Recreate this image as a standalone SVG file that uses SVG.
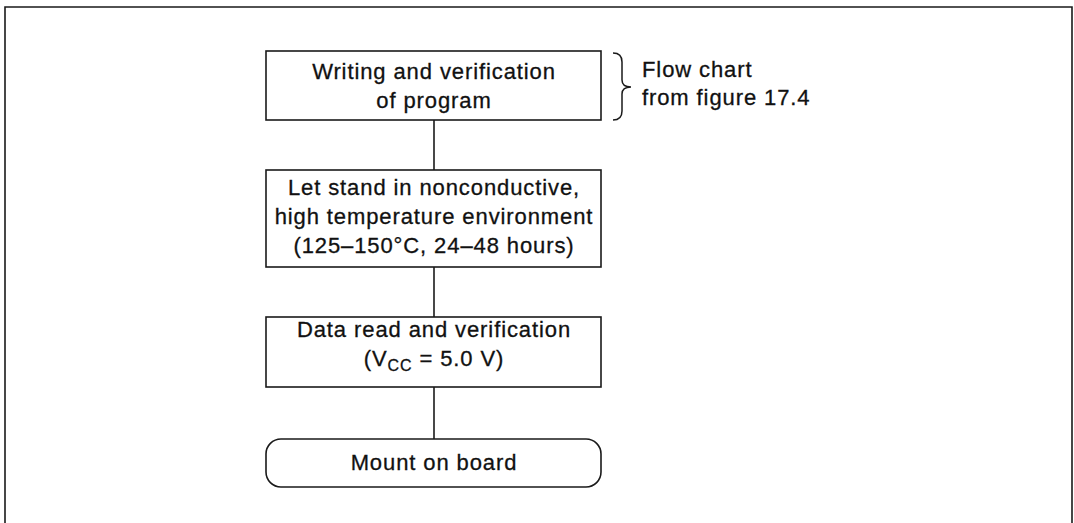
<svg xmlns="http://www.w3.org/2000/svg" width="1074" height="523" viewBox="0 0 1074 523">
  <style>
    .box { fill: #ffffff; stroke: #1a1a1a; stroke-width: 1.6; }
    .conn { stroke: #1a1a1a; stroke-width: 1.6; fill: none; }
    .t { font-family: "Liberation Sans", Arial, sans-serif; font-size: 22px; letter-spacing: 0.9px; fill: #111111; stroke: #111111; stroke-width: 0.3px; }
    .c { text-anchor: middle; }
  </style>
  <rect x="0" y="0" width="1074" height="523" fill="#ffffff"/>
  <path d="M5,530 L5,7 L1072,7 L1072,530" fill="none" stroke="#1a1a1a" stroke-width="1.6"/>

  <g id="connectors">
    <line class="conn" x1="434" y1="120" x2="434" y2="170"/>
    <line class="conn" x1="434" y1="267" x2="434" y2="317"/>
    <line class="conn" x1="434" y1="387" x2="434" y2="439"/>
  </g>

  <g id="node-write">
    <rect class="box" x="266" y="51" width="335" height="69"/>
    <text class="t c" x="434" y="79">Writing and verification</text>
    <text class="t c" x="434" y="108">of program</text>
  </g>

  <g id="note-flowchart">
    <path d="M613,53 Q622,53 622,62 L622,80 Q622,87 631,87 Q622,87 622,94 L622,111 Q622,120 613,120" fill="none" stroke="#1a1a1a" stroke-width="1.5"/>
    <text class="t" x="642" y="77">Flow chart</text>
    <text class="t" x="642" y="105">from figure 17.4</text>
  </g>

  <g id="node-stand">
    <rect class="box" x="266" y="170" width="335" height="97"/>
    <text class="t c" x="434" y="195">Let stand in nonconductive,</text>
    <text class="t c" x="434" y="224">high temperature environment</text>
    <text class="t c" x="434" y="253">(125–150°C, 24–48 hours)</text>
  </g>

  <g id="node-read">
    <rect class="box" x="266" y="317" width="335" height="70"/>
    <text class="t c" x="434" y="337">Data read and verification</text>
    <text class="t c" x="434" y="366">(V<tspan font-size="16" dy="5">CC</tspan><tspan dy="-5"> = 5.0 V)</tspan></text>
  </g>

  <g id="node-mount">
    <rect class="box" x="266" y="439" width="335" height="48" rx="15" ry="15"/>
    <text class="t c" x="434" y="470">Mount on board</text>
  </g>
</svg>
